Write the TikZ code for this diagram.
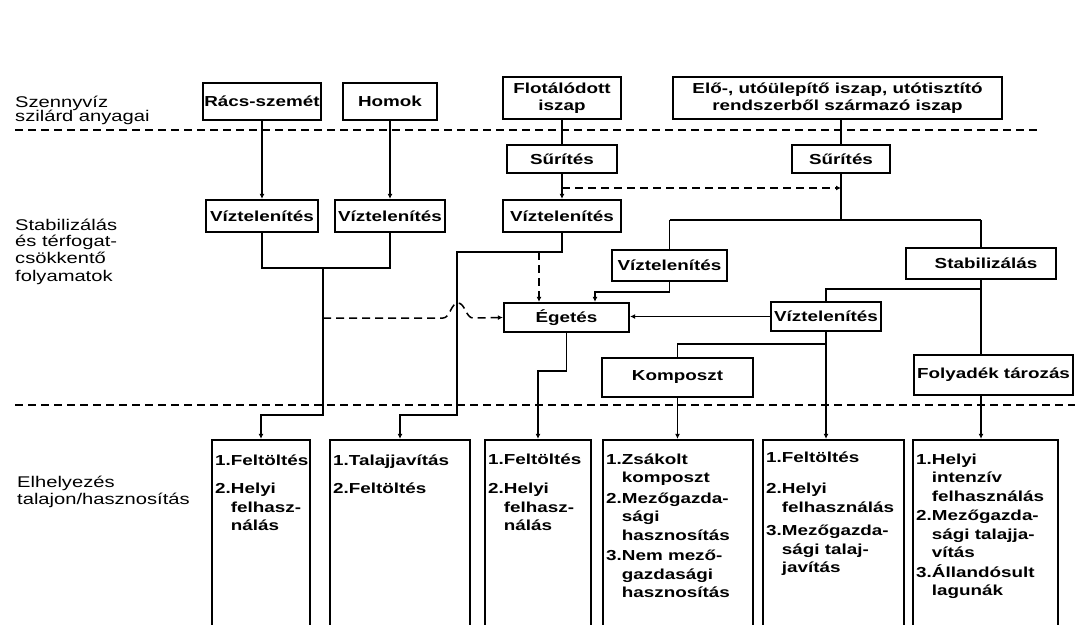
\documentclass[tikz,border=0pt]{standalone}
\usepackage{fontspec}
\setmainfont{Liberation Sans}[FakeStretch=1.3]
\usetikzlibrary{arrows.meta}
\begin{document}
\begin{tikzpicture}[x=1pt,y=-1pt,
  bx/.style={draw, line width=2.3pt, inner sep=0pt, align=center,
    font=\fontsize{14.5}{17}\selectfont\bfseries},
  ln/.style={line width=1.5pt},
  dsh/.style={line width=1.5pt, dash pattern=on 8pt off 5pt},
  arr/.style={-{Latex[length=5pt,width=5pt]}},
  lbl/.style={anchor=base west, inner sep=0pt, font=\fontsize{15.5}{16}\selectfont},
  txt/.style={anchor=north west, inner sep=0pt, font=\fontsize{14.5}{18.5}\selectfont\bfseries},
]
\useasboundingbox (0,0) rectangle (1075,624);
\fill[white] (0,0) rectangle (1075,624);
\clip (0,0) rectangle (1075,624);

% separators
\draw[dsh] (15,130) -- (1040,130);
\draw[dsh] (15,405) -- (1075,405);

% left labels
\node[lbl] (la1) at (15,107) {Szennyvíz};
\node[lbl] (la2) at (15,121) {szilárd anyagai};
\node[lbl] (lb1) at (15,230) {Stabilizálás};
\node[lbl] (lb2) at (15,246) {és térfogat-};
\node[lbl] (lb3) at (15,263) {csökkentő};
\node[lbl] (lb4) at (15,281) {folyamatok};
\node[lbl] (lc1) at (17,487) {Elhelyezés};
\node[lbl] (lc2) at (17,504) {talajon/hasznosítás};

% top row
\node[bx, minimum width=118, minimum height=37] (rac) at (262,101.5) {Rács-szemét};
\node[bx, minimum width=94, minimum height=37] (hom) at (390,101.5) {Homok};
\node[bx, minimum width=118, minimum height=42] (flo) at (562,98) {Flotálódott\\iszap};
\node[bx, minimum width=329, minimum height=42] (elo) at (837.5,98) {Elő-, utóülepítő iszap, utótisztító\\rendszerből származó iszap};

% thickening
\node[bx, minimum width=110, minimum height=28] (sur1) at (562,159) {Sűrítés};
\node[bx, minimum width=98, minimum height=28] (sur2) at (841,159) {Sűrítés};

% dewatering row
\node[bx, minimum width=112, minimum height=32] (v1) at (262,216) {Víztelenítés};
\node[bx, minimum width=110, minimum height=32] (v2) at (390,216) {Víztelenítés};
\node[bx, minimum width=118, minimum height=32] (v3) at (562,216) {Víztelenítés};
\node[bx, minimum width=115, minimum height=31] (v4) at (669.5,265.5) {Víztelenítés};
\node[bx, minimum width=150, minimum height=31] (stab) at (981,263.5) {\hspace*{10pt}Stabilizálás};
\node[bx, minimum width=125, minimum height=29] (eg) at (566.5,317.5) {Égetés};
\node[bx, minimum width=110, minimum height=29] (v5) at (826,316.5) {Víztelenítés};
\node[bx, minimum width=151, minimum height=39] (komp) at (677.5,377.5) {Komposzt};
\node[bx, minimum width=159, minimum height=40] (foly) at (993.5,375) {Folyadék tározás};

% bottom boxes
\node[bx, minimum width=98, minimum height=200] (b1) at (261,540) {};
\node[bx, minimum width=140, minimum height=200] (b2) at (400,540) {};
\node[bx, minimum width=106, minimum height=200] (b3) at (538,540) {};
\node[bx, minimum width=150, minimum height=200] (b4) at (678,540) {};
\node[bx, minimum width=141, minimum height=200] (b5) at (833.5,540) {};
\node[bx, minimum width=145, minimum height=200] (b6) at (985.5,540) {};

\node[txt] (t1) at (215,452) {\begin{tabular}{@{}l@{}l@{}}1.&Feltöltés\\[10pt]2.&Helyi\\&felhasz-\\&nálás\end{tabular}};
\node[txt] (t2) at (333,452) {\begin{tabular}{@{}l@{}l@{}}1.&Talajjavítás\\[10pt]2.&Feltöltés\end{tabular}};
\node[txt] (t3) at (488,451) {\begin{tabular}{@{}l@{}l@{}}1.&Feltöltés\\[11pt]2.&Helyi\\&felhasz-\\&nálás\end{tabular}};
\node[txt] (t4) at (606,451) {\begin{tabular}{@{}l@{}l@{}}1.&Zsákolt\\&komposzt\\[2pt]2.&Mezőgazda-\\&sági\\&hasznosítás\\[2pt]3.&Nem mező-\\&gazdasági\\&hasznosítás\end{tabular}};
\node[txt] (t5) at (766,449) {\begin{tabular}{@{}l@{}l@{}}1.&Feltöltés\\[13pt]2.&Helyi\\&felhasználás\\[5pt]3.&Mezőgazda-\\&sági talaj-\\&javítás\end{tabular}};
\node[txt] (t6) at (916,451) {\begin{tabular}{@{}l@{}l@{}}1.&Helyi\\&intenzív\\&felhasználás\\[1pt]2.&Mezőgazda-\\&sági talajja-\\&vítás\\[1pt]3.&Állandósult\\&lagunák\end{tabular}};

% connectors, left part
\draw[ln,arr] (rac.south) -- (v1.north);
\draw[ln,arr] (hom.south) -- (v2.north);
\draw[ln] (flo.south) -- (sur1.north);
\draw[ln,arr] (sur1.south) -- (v3.north);
\draw[ln] (v1.south) -- ++(0,35) -| (v2.south);
\coordinate (j12) at (323,267);
\draw[ln,arr] (j12) -- (323,415) -| (b1.north);
\draw[ln,arr] (v3.south) |- (457,252) -- (457,415) -| (b2.north);
\coordinate (d1) at (539,252);
\draw[dsh,arr] (d1) -- (d1 |- eg.north);
\draw[ln,arr] (eg.south) -- ++(0,38) -| (b3.north);
\coordinate (h0) at (323,318);
\draw[dsh,arr] (h0) -- (443,318) .. controls (450,318) and (451,303) .. (458,303)
  .. controls (465,303) and (466,318) .. (473,318) -- (eg.west);
\coordinate (da) at (562,188);
\draw[dsh,arr] (da) -- (da -| sur2.south);

% connectors, right part
\draw[ln] (elo.south -| sur2.north) -- (sur2.north);
\coordinate (bar) at (841,220);
\draw[ln] (sur2.south) -- (bar);
\draw[ln] (v4.north |- bar) -- (stab.north |- bar);
\draw[ln] (v4.north |- bar) -- (v4.north);
\draw[ln] (stab.north |- bar) -- (stab.north);
\coordinate (k1) at (595,292);
\draw[ln,arr] (v4.south) |- (k1) -- (k1 |- eg.north);
\draw[ln] (stab.south) -- (stab.south |- foly.north);
\coordinate (br) at (981,289);
\draw[ln] (br) -| (v5.north);
\draw[ln,arr] (v5.west) -- (v5.west -| eg.east);
\draw[ln,arr] (v5.south) -- (v5.south |- b5.north);
\coordinate (kb) at (826,344);
\draw[ln] (kb) -| (komp.north);
\draw[ln,arr] (komp.south) -- (komp.south |- b4.north);
\draw[ln,arr] (stab.south |- foly.south) -- (stab.south |- b6.north);
\end{tikzpicture}
\end{document}
